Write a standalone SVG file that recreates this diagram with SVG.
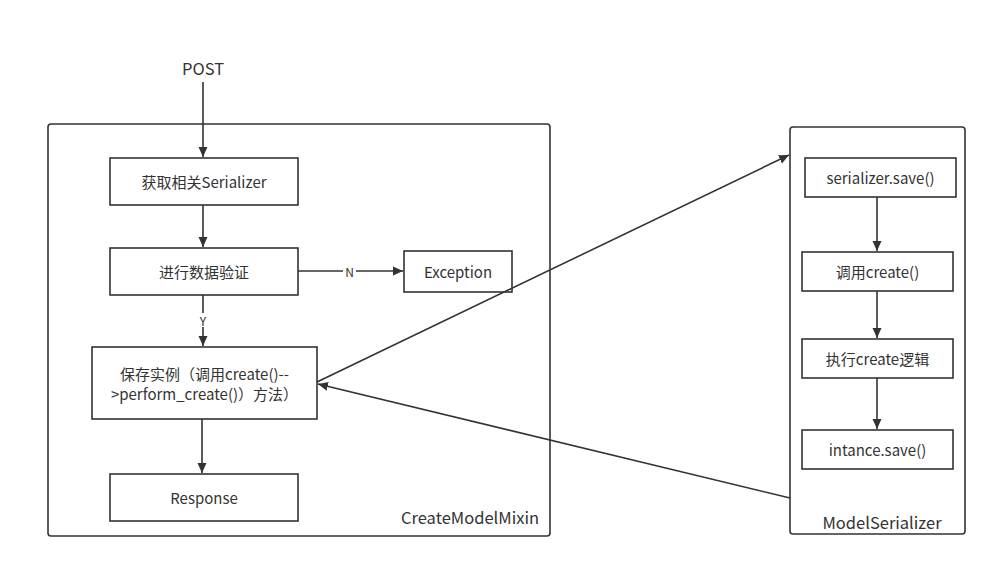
<svg xmlns="http://www.w3.org/2000/svg" width="996" height="575" viewBox="0 0 996 575">
<defs>
<marker id="ah" viewBox="0 0 10 10" refX="10" refY="5" markerWidth="10" markerHeight="10" markerUnits="userSpaceOnUse" orient="auto">
<path d="M0,0.5 L10,5 L0,9.5 z" fill="#333"/>
</marker>
<style>
.box{fill:#fff;stroke:#333;stroke-width:1.6}
.cont{fill:none;stroke:#333;stroke-width:1.6}
.t{font-family:"Noto Sans CJK SC","Noto Sans",sans-serif;font-size:15px;fill:#333;text-anchor:middle;dominant-baseline:central}
.ct{font-family:"Noto Sans CJK SC","Noto Sans",sans-serif;font-size:16.5px;fill:#333;text-anchor:middle;dominant-baseline:central}
.lbl{font-family:"Noto Sans CJK SC","Noto Sans",sans-serif;font-size:12px;fill:#333;text-anchor:middle;dominant-baseline:central}
.c{fill:none;stroke:#333;stroke-width:1.6;marker-end:url(#ah)}
</style>
</defs>
<rect width="996" height="575" fill="#fff"/>
<g id="CreateModelMixin">
<rect class="cont" x="48" y="124" width="502" height="412" rx="3"/>
<text class="ct" x="470" y="517">CreateModelMixin</text>
</g>
<g id="ModelSerializer">
<rect class="cont" x="790" y="127" width="175" height="407" rx="3"/>
<text class="ct" x="882" y="522">ModelSerializer</text>
</g>
<g id="post"><text class="ct" x="203" y="68">POST</text></g>
<g id="getSerializer"><rect class="box" x="110" y="158" width="188" height="47"/><text class="t" x="204" y="181.5">获取相关Serializer</text></g>
<g id="validate"><rect class="box" x="110" y="248" width="188" height="47"/><text class="t" x="204" y="271.5">进行数据验证</text></g>
<g id="exception"><rect class="box" x="404" y="251" width="108" height="41"/><text class="t" x="458" y="271.5">Exception</text></g>
<g id="save"><rect class="box" x="92" y="347" width="225" height="72"/><text class="t" x="204.5" y="373">保存实例（调用create()--</text><text class="t" x="204.5" y="393">&gt;perform_create()）方法）</text></g>
<g id="response"><rect class="box" x="110" y="474" width="188" height="47"/><text class="t" x="204" y="497.5">Response</text></g>
<g id="serializerSave"><rect class="box" x="805" y="158" width="151" height="39"/><text class="t" x="880.5" y="177.5">serializer.save()</text></g>
<g id="callCreate"><rect class="box" x="802" y="252" width="151" height="39"/><text class="t" x="877.5" y="271.5">调用create()</text></g>
<g id="execCreate"><rect class="box" x="802" y="339" width="151" height="39"/><text class="t" x="877.5" y="358.5">执行create逻辑</text></g>
<g id="instanceSave"><rect class="box" x="802" y="430" width="151" height="39"/><text class="t" x="877.5" y="449.5">intance.save()</text></g>
<g id="connectors">
<line class="c" x1="203" y1="82" x2="203" y2="157"/>
<line class="c" x1="203" y1="205" x2="203" y2="247"/>
<line class="c" x1="298" y1="271" x2="403" y2="271"/>
<rect x="343" y="264" width="13" height="14" fill="#fff"/>
<text class="lbl" x="349.5" y="271">N</text>
<line class="c" x1="203" y1="295" x2="203" y2="346"/>
<rect x="197" y="313" width="13" height="14" fill="#fff"/>
<text class="lbl" x="203" y="320">Y</text>
<line class="c" x1="202" y1="419" x2="202" y2="473"/>
<line class="c" x1="317" y1="382" x2="789" y2="155"/>
<line class="c" x1="790" y1="498" x2="318" y2="384"/>
<line class="c" x1="877" y1="197" x2="877" y2="251"/>
<line class="c" x1="877" y1="291" x2="877" y2="338"/>
<line class="c" x1="877" y1="378" x2="877" y2="429"/>
</g>
</svg>
